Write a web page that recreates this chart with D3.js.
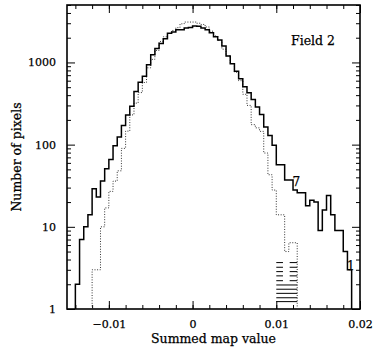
<!DOCTYPE html>
<html>
<head>
<meta charset="utf-8">
<script src="https://cdn.jsdelivr.net/npm/d3@7"></script>
<style>
    body { margin: 0; background: #fff; }
    text { font-family: "DejaVu Serif", serif; fill: #000; stroke: #000; stroke-width: 0.25px; }
</style>
</head>
<body>
<div id="chart"></div>
<script>
// 70 bins of width 0.0005, first bin starts at -0.015
const binStart = -0.015, binWidth = 0.0005
const solidCounts = [
    0, 0, 2, 7, 10, 14, 29, 23, 36, 51,
    66, 97, 124, 171, 230, 293, 443, 575, 681, 937,
    1242, 1482, 1706, 1946, 2259, 2343, 2505, 2505, 2620, 2660,
    2780, 2750, 2620, 2505, 2302, 2058, 1872, 1582, 1194, 964,
    783, 632, 505, 427, 354, 288, 232, 164, 129, 98,
    57, 57, 37, 37, 28, 26, 26, 18, 21, 20,
    9, 16, 24, 14, 9, 9, 5, 3, 0, 0]
const dottedCounts = [
    0, 0, 0, 0, 0, 0, 3, 3, 10, 17,
    27, 36, 48, 90, 146, 230, 320, 430, 570, 860,
    1090, 1400, 1800, 2050, 2250, 2450, 2650, 2950, 3100, 3100,
    3100, 3000, 2900, 2700, 2400, 2100, 1850, 1450, 1200, 970,
    760, 600, 410, 300, 175, 160, 145, 79, 43, 28,
    14, 14, 5, 6.4, 6.4, 0, 0, 0, 0, 0,
    0, 0, 0, 0, 0, 0, 0, 0, 0, 0]
// horizontal hatch strokes under the dotted tail
const hatchDashed = [3.67, 3.22, 2.85, 2.53, 2.21]
const hatchFull = [1.96, 1.74, 1.55, 1.37, 1.23]
const hatchLeft = [0.0100, 0.0108], hatchRight = [0.0116, 0.0125]
const xTicks = [-0.01, 0, 0.01, 0.02]
const yTicks = [1, 10, 100, 1000]
const notes = [{x: 0.0124, y: 31, t: "7"}, {x: 0.0189, y: 3, t: "1"}]

const W = 374, H = 349
const margin = {top: 5, right: 14, bottom: 40, left: 67}
const svg = d3.select("#chart").append("svg").attr("width", W).attr("height", H)

const xScale = d3.scaleLinear().domain([-0.015, 0.02]).range([margin.left, W - margin.right])
const yScale = d3.scaleLog().domain([1, 5000]).range([H - margin.bottom, margin.top])

const x0 = xScale.range()[0], x1 = xScale.range()[1]
const y0 = yScale.range()[0], y1 = yScale.range()[1]

const xMinor = d3.range(-0.014, 0.0201, 0.002)
const yMinor = []
;[1, 10, 100, 1000].forEach(d => d3.range(2, 10).forEach(m => { if (d * m <= 5000) yMinor.push(d * m) }))

function drawAxes() {
    const fmt = d => d === 0 ? "0" : d3.format(".2f")(d)
    const gb = svg.append("g").attr("transform", `translate(0,${y0})`)
        .call(d3.axisBottom(xScale).tickValues(xTicks).tickFormat(fmt).tickSizeInner(-8).tickSizeOuter(0).tickPadding(11))
    const gbm = svg.append("g").attr("transform", `translate(0,${y0})`)
        .call(d3.axisBottom(xScale).tickValues(xMinor).tickFormat("").tickSizeInner(-4).tickSizeOuter(0))
    const gt = svg.append("g").attr("transform", `translate(0,${y1})`)
        .call(d3.axisTop(xScale).tickValues(xTicks).tickFormat("").tickSizeInner(-8).tickSizeOuter(0))
    const gtm = svg.append("g").attr("transform", `translate(0,${y1})`)
        .call(d3.axisTop(xScale).tickValues(xMinor).tickFormat("").tickSizeInner(-4).tickSizeOuter(0))
    const gl = svg.append("g").attr("transform", `translate(${x0},0)`)
        .call(d3.axisLeft(yScale).tickValues(yTicks).tickFormat(d3.format("d")).tickSizeInner(-8).tickSizeOuter(0).tickPadding(11))
    const glm = svg.append("g").attr("transform", `translate(${x0},0)`)
        .call(d3.axisLeft(yScale).tickValues(yMinor).tickFormat("").tickSizeInner(-4).tickSizeOuter(0))
    const gr = svg.append("g").attr("transform", `translate(${x1},0)`)
        .call(d3.axisRight(yScale).tickValues(yTicks).tickFormat("").tickSizeInner(-8).tickSizeOuter(0))
    const grm = svg.append("g").attr("transform", `translate(${x1},0)`)
        .call(d3.axisRight(yScale).tickValues(yMinor).tickFormat("").tickSizeInner(-4).tickSizeOuter(0))
    ;[gb, gbm, gt, gtm, gl, glm, gr, grm].forEach(g => {
        g.select(".domain").remove()
        g.selectAll("line").attr("stroke", "#000").attr("stroke-width", 1)
        g.selectAll("text").attr("font-family", "DejaVu Serif").attr("font-size", 11).attr("fill", "#000")
    })
    svg.append("rect")
        .attr("x", x0).attr("y", y1).attr("width", x1 - x0).attr("height", y0 - y1)
        .attr("fill", "none").attr("stroke", "#000").attr("stroke-width", 1.6)
}

function stepPoints(counts) {
    const first = counts.findIndex(c => c > 0)
    let last = counts.length - 1
    while (counts[last] <= 0) last--
    const pts = [[binStart + first * binWidth, 1]]
    for (let i = first; i <= last; i++) {
        pts.push([binStart + i * binWidth, counts[i] > 0 ? counts[i] : 1])
    }
    pts.push([binStart + (last + 1) * binWidth, counts[last]])
    pts.push([binStart + (last + 1) * binWidth, 1])
    return pts
}

const line = d3.line()
    .x(d => xScale(d[0]))
    .y(d => yScale(d[1]))
    .curve(d3.curveStepAfter)

drawAxes()

svg.append("path")
    .datum(stepPoints(dottedCounts))
    .attr("fill", "none")
    .attr("stroke", "#333")
    .attr("stroke-width", 1)
    .attr("stroke-dasharray", "1,1.6")
    .attr("d", line)

svg.append("path")
    .datum(stepPoints(solidCounts))
    .attr("fill", "none")
    .attr("stroke", "#000")
    .attr("stroke-width", 1.5)
    .attr("d", line)

hatchDashed.forEach(v => {
    [hatchLeft, hatchRight].forEach(r => {
        svg.append("line")
            .attr("x1", xScale(r[0])).attr("x2", xScale(r[1]))
            .attr("y1", yScale(v)).attr("y2", yScale(v))
            .attr("stroke", "#000").attr("stroke-width", 1)
    })
})
hatchFull.forEach(v => {
    svg.append("line")
        .attr("x1", xScale(hatchLeft[0])).attr("x2", xScale(hatchRight[1]))
        .attr("y1", yScale(v)).attr("y2", yScale(v))
        .attr("stroke", "#000").attr("stroke-width", 1)
})

notes.forEach(n => {
    svg.append("text")
        .attr("x", xScale(n.x)).attr("y", yScale(n.y))
        .attr("text-anchor", "middle")
        .attr("font-size", 12)
        .text(n.t)
})

svg.append("text")
    .attr("x", 291).attr("y", 45)
    .attr("font-size", 12.5)
    .text("Field 2")

svg.append("text")
    .attr("x", (x0 + x1) / 2).attr("y", 343)
    .attr("text-anchor", "middle")
    .attr("font-size", 12.5)
    .text("Summed map value")

svg.append("text")
    .attr("transform", `translate(21,${(y0 + y1) / 2}) rotate(-90)`)
    .attr("text-anchor", "middle")
    .attr("font-size", 12.5)
    .text("Number of pixels")
</script>
</body>
</html>
